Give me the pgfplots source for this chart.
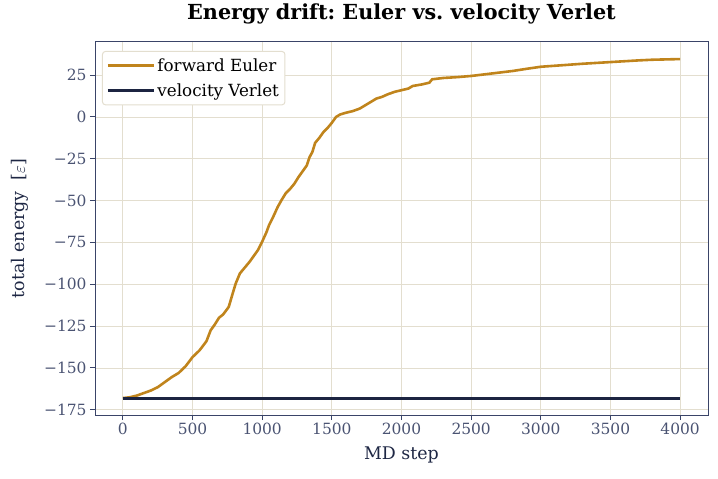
\documentclass[border=0pt]{standalone}
\usepackage{pgfplots}
\pgfplotsset{compat=1.18}
\usepackage{fontspec}
\setmainfont{DejaVu Serif}
\frenchspacing
\definecolor{euler}{HTML}{C0841C}
\definecolor{verlet}{HTML}{1C2441}
\definecolor{tickc}{HTML}{4A5372}
\definecolor{axc}{HTML}{3A4468}
\definecolor{gridc}{HTML}{E3DECF}
\definecolor{labc}{HTML}{1E2744}
\begin{document}
\begin{tikzpicture}
\begin{axis}[
  scale only axis,
  width=613bp, height=373bp,
  xmin=-200, xmax=4200,
  ymin=-178.1, ymax=44.8,
  xtick={0,500,...,4000},
  ytick={-175,-150,...,25},
  /pgf/number format/assume math mode=true,
  /pgf/number format/1000 sep={},
  scaled ticks=false,
  yticklabel={\ifdim\tick pt<0pt −\pgfmathparse{abs(\tick)}\pgfmathprintnumber{\pgfmathresult}\else\pgfmathprintnumber{\tick}\fi},
  tick label style={font=\fontsize{15.5}{18}\selectfont, color=tickc},
  axis line style={color=axc, line width=1bp},
  tick style={color=axc, line width=1bp},
  tick align=outside,
  major tick length=5bp,
  xtick pos=bottom, ytick pos=left,
  grid=major,
  major grid style={color=gridc, line width=0.9bp},
  xlabel={MD step},
  ylabel={total energy\ \ [$\varepsilon$]},
  xlabel style={at={(axis description cs:0.5,-0.107)}, anchor=center},
  ylabel style={at={(axis description cs:-0.122,0.5)}, anchor=center},
  label style={font=\fontsize{17.5}{20}\selectfont, color=labc},
  title={\bfseries Energy drift: Euler vs. velocity Verlet},
  title style={font=\fontsize{20.8}{24}\selectfont, color=black, at={(axis description cs:0.5,1.059)}, anchor=center},
  legend style={font=\fontsize{16.8}{19}\selectfont, draw=gridc, fill=white, rounded corners=3pt, line width=1bp, inner xsep=4bp, inner ysep=5bp, at={(axis description cs:0.0114,0.976)}, anchor=north west, row sep=7bp},
  legend cell align=left,
  legend image code/.code={\path (-2bp,0bp) -- (44bp,0bp);\draw[#1, line width=2.6bp, sharp corners] (0bp,0bp) -- (37bp,0bp);},
]
\addplot[color=euler, line width=2.6bp] coordinates {
(0,-168) (50,-167.5) (100,-166.5) (150,-165) (200,-163.5) (250,-161.5)
(300,-158.5) (350,-155.5) (400,-153) (450,-149) (500,-143.5) (550,-139.5)
(600,-134) (630,-127.5) (660,-124) (690,-120) (720,-118) (760,-113.5)
(790,-105) (810,-99.5) (840,-93.5) (880,-89.5) (910,-86.5) (940,-83)
(970,-79.5) (1000,-74.5) (1030,-69) (1050,-64.5) (1080,-59.5) (1110,-54)
(1140,-49.5) (1170,-45.5) (1200,-43) (1230,-40) (1260,-36) (1290,-32.5)
(1320,-29) (1340,-24) (1360,-21) (1380,-15.5) (1410,-12.5) (1440,-9)
(1470,-6.5) (1500,-3.5) (1530,0) (1560,1.5) (1600,2.5) (1650,3.5)
(1700,5) (1740,7) (1780,9) (1820,11) (1860,12) (1900,13.5) (1950,15)
(2000,16) (2050,17) (2080,18.5) (2150,19.5) (2200,20.5) (2220,22.5)
(2300,23.3) (2400,23.8) (2500,24.5) (2600,25.5) (2700,26.5) (2800,27.5)
(2900,28.8) (3000,30) (3100,30.6) (3200,31.2) (3300,31.8) (3400,32.3)
(3500,32.8) (3600,33.3) (3700,33.8) (3800,34.2) (3900,34.4) (4000,34.6)
};
\addlegendentry{forward Euler}
\addplot[color=verlet, line width=3bp] coordinates {(0,-168) (4000,-168)};
\addlegendentry{velocity Verlet}
\end{axis}
\pgfresetboundingbox
\path[use as bounding box] ([shift={(-95bp,-63bp)}]current axis.south west) rectangle ([shift={(10bp,42bp)}]current axis.north east);
\end{tikzpicture}
\end{document}
